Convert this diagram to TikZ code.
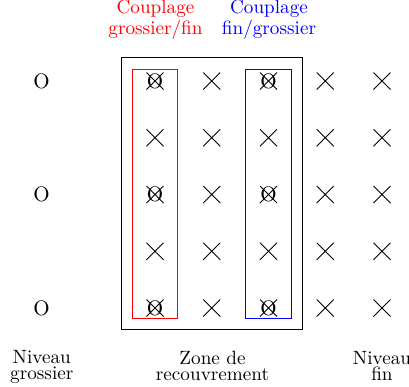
\documentclass[tikz,border=0pt]{standalone}
\usetikzlibrary{shapes.misc}
\newcommand{\lblfont}{\fontsize{9.6}{8}\selectfont}
\begin{document}
\begin{tikzpicture}[x=0.5pt,y=-0.5pt,
  lbl/.style={font=\lblfont, align=center, inner sep=0pt},
  xmark/.style={cross out, draw, line width=0.5pt, inner sep=0pt, minimum size=8pt},
  omark/.style={font=\fontsize{10.5}{12}\selectfont, inner sep=0pt},
  zone/.style={draw, line width=0.5pt},
  couple/.style={draw, line width=0.5pt}]
\useasboundingbox (0,0) rectangle (409,387);
% overlap zone frame
\draw[zone] (121.5,57.5) rectangle (302.5,329.5);
\draw[couple, red] (132.5,69) rectangle (178,318);
\draw[couple, blue] (246,69) rectangle (291.5,318);
% fine grid crosses
\foreach \i in {1,...,5}{
  \foreach \j in {1,...,5}{
    \node[xmark] (x\i\j) at ({155+(\i-1)*56.75},{81+(\j-1)*56.75}) {};
  }
}
% coarse points
\foreach \j/\r in {1/0,3/2,5/4}{
  \node[omark] (og\j) at (41.5,{81+\r*56.75}) {O};
  \node[omark] (oa\j) at (155,{81+\r*56.75}) {O};
  \node[omark] (ob\j) at (268.5,{81+\r*56.75}) {O};
}
% labels
\node[lbl, text=red] (lgf) at (155.5,19.5) {Couplage\\grossier/fin};
\node[lbl, text=blue] (lfg) at (269,19.5) {Couplage\\fin/grossier};
\node[lbl] (lng) at (41.8,367) {Niveau\\grossier};
\node[lbl] (lzr) at (212.5,365.5) {Zone de\\recouvrement};
\node[lbl] (lnf) at (382,365.5) {Niveau\\fin};
\end{tikzpicture}
\end{document}
